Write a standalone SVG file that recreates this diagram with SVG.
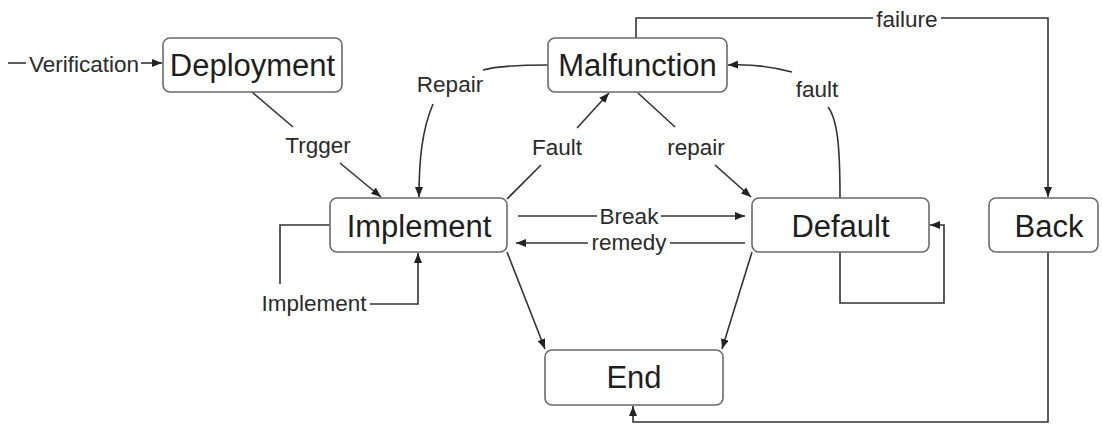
<svg xmlns="http://www.w3.org/2000/svg" width="1102" height="425" viewBox="0 0 1102 425">
  <style>
    .box { fill: #ffffff; stroke: #6a6a6a; stroke-width: 1.6; }
    .node-text { font-family: "Liberation Sans", Arial, sans-serif; font-size: 31px; fill: #1e1e1e; text-anchor: middle; }
    .edge { fill: none; stroke: #333333; stroke-width: 1.6; }
    .label { font-family: "Liberation Sans", Arial, sans-serif; font-size: 22.5px; fill: #2a2a2a; text-anchor: middle; }
  </style>
  <defs>
    <marker id="arrow" markerUnits="userSpaceOnUse" markerWidth="10" markerHeight="8" refX="10" refY="4" orient="auto">
      <path d="M0,0 L10,4 L0,8 z" fill="#222222"/>
    </marker>
  </defs>
  <rect width="1102" height="425" fill="#ffffff"/>

  <!-- connectors -->
  <g id="connectors">
    <!-- Verification -->
    <path class="edge" d="M8,63 H26"/>
    <path class="edge" d="M141,63 H162" marker-end="url(#arrow)"/>
    <text class="label" x="84" y="72">Verification</text>

    <!-- Trgger -->
    <path class="edge" d="M252,92 L293,127"/>
    <path class="edge" d="M340,163 L381,197" marker-end="url(#arrow)"/>
    <text class="label" x="318" y="153">Trgger</text>

    <!-- Repair -->
    <path class="edge" d="M548,65 C520,65 497,66 483,70"/>
    <path class="edge" d="M433,104 C422,130 419,160 419,197" marker-end="url(#arrow)"/>
    <text class="label" x="450" y="92">Repair</text>

    <!-- Fault -->
    <path class="edge" d="M507,199 L541,165"/>
    <path class="edge" d="M577,128 L609,93" marker-end="url(#arrow)"/>
    <text class="label" x="557" y="155">Fault</text>

    <!-- repair -->
    <path class="edge" d="M638,93 L675,127"/>
    <path class="edge" d="M715,165 L751,197" marker-end="url(#arrow)"/>
    <text class="label" x="696" y="155">repair</text>

    <!-- fault -->
    <path class="edge" d="M840,198 C840,150 838,120 828,107"/>
    <path class="edge" d="M792,72 C770,66 750,64 728,65" marker-end="url(#arrow)"/>
    <text class="label" x="817" y="97">fault</text>

    <!-- failure -->
    <path class="edge" d="M636,38 V18 H873"/>
    <path class="edge" d="M941,18 H1048 V197" marker-end="url(#arrow)"/>
    <text class="label" x="907" y="27">failure</text>

    <!-- Break -->
    <path class="edge" d="M518,216 H597"/>
    <path class="edge" d="M661,216 H745" marker-end="url(#arrow)"/>
    <text class="label" x="629" y="224">Break</text>

    <!-- remedy -->
    <path class="edge" d="M745,243 H670"/>
    <path class="edge" d="M588,243 H516" marker-end="url(#arrow)"/>
    <text class="label" x="629" y="250">remedy</text>

    <!-- Implement self-loop -->
    <path class="edge" d="M330,225 H280 V284"/>
    <path class="edge" d="M370,304 H418 V253" marker-end="url(#arrow)"/>
    <text class="label" x="314" y="311">Implement</text>

    <!-- to End -->
    <path class="edge" d="M507,252 L545,349" marker-end="url(#arrow)"/>
    <path class="edge" d="M752,252 L722,349" marker-end="url(#arrow)"/>

    <!-- Default self-loop -->
    <path class="edge" d="M840,252 V303 H944 V225 H930" marker-end="url(#arrow)"/>

    <!-- Back to End -->
    <path class="edge" d="M1048,252 V422 H633 V406" marker-end="url(#arrow)"/>
  </g>

  <!-- nodes -->
  <g id="deployment">
    <rect class="box" x="163" y="38" width="179" height="54" rx="7"/>
    <text class="node-text" x="252.5" y="76">Deployment</text>
  </g>
  <g id="malfunction">
    <rect class="box" x="548" y="38" width="179" height="54" rx="7"/>
    <text class="node-text" x="637.5" y="76">Malfunction</text>
  </g>
  <g id="implement">
    <rect class="box" x="330" y="198" width="177" height="54" rx="7"/>
    <text class="node-text" x="419" y="237">Implement</text>
  </g>
  <g id="default">
    <rect class="box" x="752" y="198" width="177" height="54" rx="7"/>
    <text class="node-text" x="840.5" y="237">Default</text>
  </g>
  <g id="back">
    <rect class="box" x="989" y="198" width="109" height="54" rx="7"/>
    <text class="node-text" x="1049" y="237">Back</text>
  </g>
  <g id="end">
    <rect class="box" x="545" y="350" width="178" height="55" rx="7"/>
    <text class="node-text" x="634" y="388">End</text>
  </g>
</svg>
